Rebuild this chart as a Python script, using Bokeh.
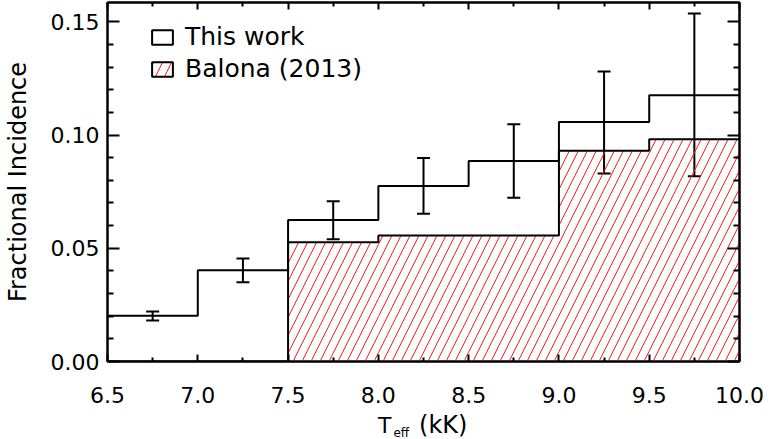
from bokeh.plotting import figure
from bokeh.layouts import column
from bokeh.models import (FixedTicker, LinearAxis, Range1d, Legend, LegendItem,
                          Whisker, TeeHead, ColumnDataSource, Div)
from bokeh.embed import file_html
from bokeh.resources import INLINE

# ---------------- data ----------------
bin_edges = [6.5, 7.0, 7.5, 8.0, 8.5, 9.0, 9.5, 10.0]
bin_centers = [6.75, 7.25, 7.75, 8.25, 8.75, 9.25, 9.75]
this_work = [0.0202, 0.0403, 0.0625, 0.0775, 0.0885, 0.1057, 0.1176]
this_work_upper = [0.0221, 0.0455, 0.0707, 0.0898, 0.1047, 0.1280, 0.1536]
this_work_lower = [0.0181, 0.0350, 0.0540, 0.0652, 0.0723, 0.0830, 0.0818]
balona = [0.0, 0.0, 0.0526, 0.0556, 0.0556, 0.0930, 0.0981]

x_ticks = [6.5, 7.0, 7.5, 8.0, 8.5, 9.0, 9.5, 10.0]
x_tick_labels = ["6.5", "7.0", "7.5", "8.0", "8.5", "9.0", "9.5", "10.0"]
x_minor_ticks = [6.75, 7.25, 7.75, 8.25, 8.75, 9.25, 9.75]
y_ticks = [0.0, 0.05, 0.10, 0.15]
y_tick_labels = ["0.00", "0.05", "0.10", "0.15"]
y_minor_ticks = [0.01, 0.02, 0.03, 0.04, 0.06, 0.07, 0.08, 0.09,
                 0.11, 0.12, 0.13, 0.14]

legend_labels = ["This work", "Balona (2013)"]
x_label_main = "T"
x_label_sub = "eff"
x_label_unit = "(kK)"
y_label = "Fractional Incidence"

FONT = "DejaVu Sans"
HATCH_RED = "#ff1a1a"
NAN = float("nan")

# ---------------- figure ----------------
p = figure(width=766, height=415, output_backend="svg", toolbar_location=None,
           x_range=Range1d(6.5, 10.0), y_range=Range1d(0.0, 0.1585),
           min_border_left=97, min_border_right=27, min_border_top=2,
           min_border_bottom=54)
p.background_fill_color = "white"
p.border_fill_color = "white"
p.outline_line_color = "black"
p.outline_line_width = 2
p.xgrid.visible = False
p.ygrid.visible = False

x_ticker = FixedTicker(ticks=x_ticks, minor_ticks=x_minor_ticks)
y_ticker = FixedTicker(ticks=y_ticks, minor_ticks=y_minor_ticks)

def style_axis(ax, major, minor):
    ax.axis_line_color = "black"
    ax.axis_line_width = 2
    ax.major_tick_line_color = "black"
    ax.major_tick_line_width = 2
    ax.minor_tick_line_color = "black"
    ax.minor_tick_line_width = 2
    ax.major_tick_in = major
    ax.major_tick_out = 0
    ax.minor_tick_in = minor
    ax.minor_tick_out = 0

xa = p.xaxis[0]
xa.ticker = x_ticker
xa.major_label_overrides = {t: l for t, l in zip(x_ticks, x_tick_labels)}
style_axis(xa, 7, 4)
xa.major_label_text_font = FONT
xa.major_label_text_font_size = "22px"
xa.major_label_text_color = "black"
xa.major_label_standoff = 25

ya = p.yaxis[0]
ya.ticker = y_ticker
ya.major_label_overrides = {t: l for t, l in zip(y_ticks, y_tick_labels)}
style_axis(ya, 12, 6)
ya.major_label_text_font = FONT
ya.major_label_text_font_size = "22px"
ya.major_label_text_color = "black"
ya.major_label_standoff = 8
ya.axis_label = y_label
ya.axis_label_text_font = FONT
ya.axis_label_text_font_size = "24px"
ya.axis_label_text_font_style = "normal"
ya.axis_label_text_color = "black"
ya.axis_label_standoff = 16

top_ax = LinearAxis(ticker=x_ticker)
style_axis(top_ax, 7, 4)
top_ax.major_label_overrides = {t: "" for t in x_ticks}
top_ax.major_label_text_font_size = "1px"
top_ax.major_label_standoff = 0
p.add_layout(top_ax, "above")
right_ax = LinearAxis(ticker=y_ticker)
style_axis(right_ax, 12, 6)
right_ax.major_label_overrides = {t: "" for t in y_ticks}
right_ax.major_label_text_font_size = "1px"
right_ax.major_label_standoff = 0
p.add_layout(right_ax, "right")

# ---------------- glyphs ----------------
hatch_src = ColumnDataSource(dict(left=bin_edges[:-1], right=bin_edges[1:],
                                  bottom=[0.0] * len(balona), top=balona))
p.quad(left="left", right="right", bottom="bottom", top="top", source=hatch_src,
       fill_color=None, line_color=None, hatch_pattern="/", hatch_color=HATCH_RED,
       hatch_scale=18, hatch_weight=1)

p.step(x=bin_edges, y=balona + [balona[-1]], mode="after",
       line_color="black", line_width=2)
p.step(x=bin_edges, y=this_work + [this_work[-1]], mode="after",
       line_color="black", line_width=2)

err_src = ColumnDataSource(dict(x=bin_centers, upper=this_work_upper,
                                lower=this_work_lower))
p.add_layout(Whisker(source=err_src, base="x", upper="upper", lower="lower",
                     dimension="height", line_color="black", line_width=2,
                     upper_head=TeeHead(size=13, line_width=2, line_color="black"),
                     lower_head=TeeHead(size=13, line_width=2, line_color="black")))

# legend proxies (NaN geometry: never drawn in the plot area)
proxy = dict(left=[NAN], right=[NAN], bottom=[NAN], top=[NAN])
r_this = p.quad(source=ColumnDataSource(proxy), left="left", right="right",
                bottom="bottom", top="top", fill_color=None,
                line_color="black", line_width=2)
r_bal = p.quad(source=ColumnDataSource(dict(proxy)), left="left", right="right",
               bottom="bottom", top="top", fill_color=None,
               line_color="black", line_width=2, hatch_pattern="/",
               hatch_color=HATCH_RED, hatch_scale=18, hatch_weight=1)

legend = Legend(items=[LegendItem(label=legend_labels[0], renderers=[r_this], index=0),
                       LegendItem(label=legend_labels[1], renderers=[r_bal], index=0)],
                location=(42, 278), padding=0, margin=0, spacing=3,
                glyph_width=26, glyph_height=18, label_standoff=10,
                label_text_font=FONT, label_text_font_size="25px",
                label_text_color="black", background_fill_alpha=0,
                border_line_color=None)
p.add_layout(legend, "center")

# ---------------- x-axis title with subscript (HTML text) ----------------
xlabel_html = (
    f'<div style="font-family:\'{FONT}\';color:black;white-space:nowrap;'
    f'line-height:20px;font-size:22px;position:relative;top:6px;">'
    f'<span>{x_label_main}</span>'
    f'<span style="font-size:12px;position:relative;top:4px;margin-left:2px;">{x_label_sub}</span>'
    f'<span style="font-size:24px;margin-left:10px;">{x_label_unit}</span>'
    f'</div>'
)
xlabel = Div(text=xlabel_html, width=220, height=28, margin=(-6, 0, 0, 378))

layout = column(p, xlabel, spacing=0)

open("out.html", "w").write(file_html(layout, INLINE))
